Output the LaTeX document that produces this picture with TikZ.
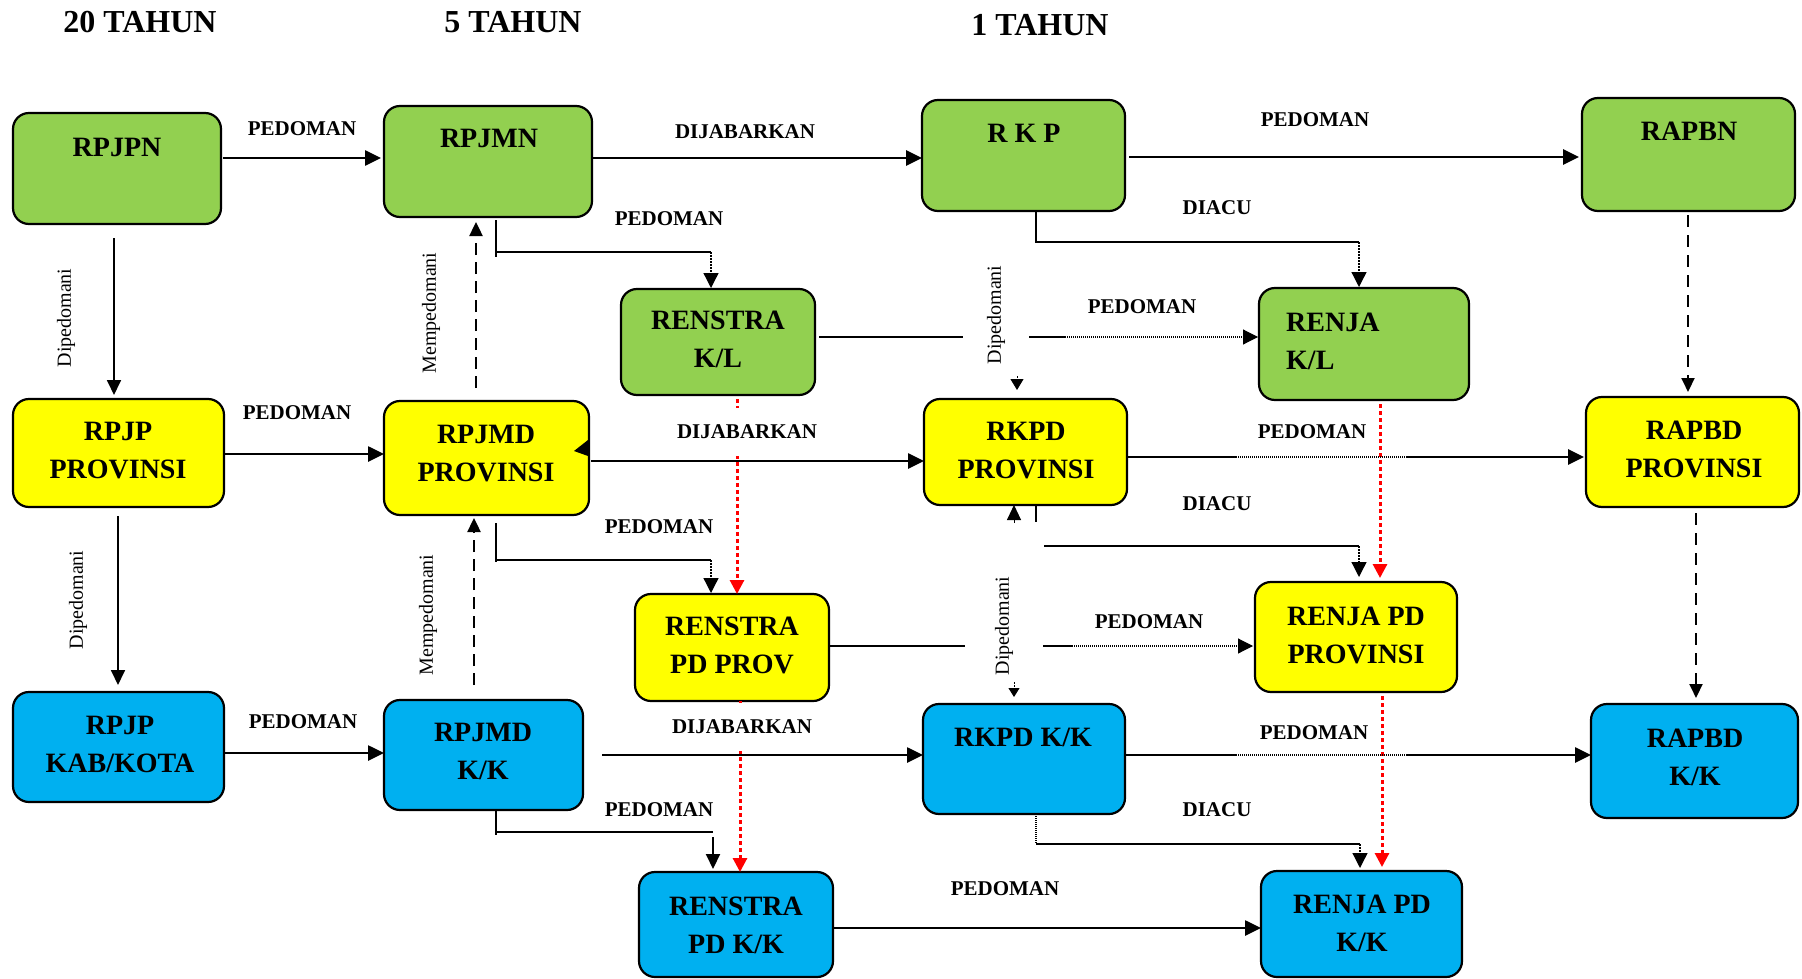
\documentclass[tikz,border=0pt]{standalone}
\usepackage{fontspec}
\setmainfont{Liberation Serif}
\usetikzlibrary{arrows.meta}
\definecolor{gr}{HTML}{92D050}
\definecolor{ye}{HTML}{FFFF00}
\definecolor{bl}{HTML}{00B0F0}
\newcommand\mkbox[6]{\node[box, fill=#6, minimum width={(#4)-(#2)}, minimum height={(#5)-(#3)}] (#1) at ({((#2)+(#4))/2},{((#3)+(#5))/2}) {};}
\begin{document}
\begin{tikzpicture}[x=1pt,y=-1pt,
  box/.style={draw=black, line width=2.2pt, rounded corners=16pt, inner sep=0pt, outer sep=0pt},
  bt/.style={font=\bfseries\fontsize{28}{38}\selectfont, align=center, inner sep=0pt},
  hdr/.style={font=\bfseries\fontsize{32}{36}\selectfont, inner sep=0pt},
  lbl/.style={font=\bfseries\fontsize{21}{24}\selectfont, inner sep=2pt},
  wlbl/.style={lbl, fill=white, inner ysep=17pt},
  rot/.style={font=\fontsize{20}{22}\selectfont, rotate=90, inner sep=1pt},
  wrot/.style={rot, fill=white},
  conn/.style={line width=2.6pt, -{Triangle[length=16pt,width=15pt]}},
  hline/.style={line width=2.6pt},
  vline/.style={line width=2pt},
  vconn/.style={line width=1.8pt, -{Triangle[length=15pt,width=14pt]}},
  dconn/.style={line width=2.4pt, dash pattern=on 12pt off 7pt, -{Triangle[length=14pt,width=13pt]}},
  dotline/.style={line width=1.1pt, dash pattern=on 1pt off 1pt},
  dotconn/.style={line width=1.1pt, dash pattern=on 1pt off 1pt, -{Triangle[length=15pt,width=15pt]}},
  dotarr/.style={line width=1.3pt, dash pattern=on 1.5pt off 1.5pt, -{Triangle[length=15pt,width=15pt]}},
  redarr/.style={red, line width=3pt, dash pattern=on 4pt off 3pt, -{Triangle[length=14pt,width=14pt]}},
  smallarr/.style={line width=1pt, dash pattern=on 1.5pt off 1.5pt, -{Triangle[length=11pt,width=13pt]}}
]
\useasboundingbox (0,0) rectangle (1802,979);
% headers
\node[hdr] (h20) at (140,22) {20 TAHUN};
\node[hdr] (h5) at (513,22) {5 TAHUN};
\node[hdr] (h1) at (1040,25) {1 TAHUN};
% boxes
\mkbox{rpjpn}{13}{113}{221}{224}{gr}
\mkbox{rpjmn}{384}{106}{592}{217}{gr}
\mkbox{rkp}{922}{100}{1125}{211}{gr}
\mkbox{rapbn}{1582}{98}{1795}{211}{gr}
\mkbox{renstrakl}{621}{289}{815}{395}{gr}
\mkbox{renjakl}{1259}{288}{1469}{400}{gr}
\mkbox{rpjpprov}{13}{399}{224}{507}{ye}
\mkbox{rpjmdprov}{384}{401}{589}{515}{ye}
\mkbox{rkpdprov}{924}{399}{1127}{505}{ye}
\mkbox{rapbdprov}{1586}{397}{1799}{507}{ye}
\mkbox{renstrapdprov}{635}{594}{829}{701}{ye}
\mkbox{renjapdprov}{1255}{582}{1457}{692}{ye}
\mkbox{rpjpkab}{13}{692}{224}{802}{bl}
\mkbox{rpjmdkk}{384}{700}{583}{810}{bl}
\mkbox{renstrapdkk}{639}{872}{833}{977}{bl}
\mkbox{rkpdkk}{923}{704}{1125}{814}{bl}
\mkbox{rapbdkk}{1591}{704}{1798}{818}{bl}
\mkbox{renjapdkk}{1261}{871}{1462}{977}{bl}
% box texts
\node[bt] (t1) at (117,147) {RPJPN};
\node[bt] (t2) at (489,138) {RPJMN};
\node[bt] (t3) at (1024,133) {R K P};
\node[bt] (t4) at (1689,131) {RAPBN};
\node[bt] (t5) at (718,339.5) {RENSTRA\\K/L};
\node[bt, align=left, anchor=west] (t6) at (1286,341) {RENJA\\K/L};
\node[bt] (t7) at (118,451) {RPJP\\PROVINSI};
\node[bt] (t8) at (486,454) {RPJMD\\PROVINSI};
\node[bt] (t9) at (1026,450.5) {RKPD\\PROVINSI};
\node[bt] (t10) at (1694,449.5) {RAPBD\\PROVINSI};
\node[bt] (t11) at (732,645.5) {RENSTRA\\PD PROV};
\node[bt] (t12) at (1356,635) {RENJA PD\\PROVINSI};
\node[bt] (t13) at (120,744) {RPJP\\KAB/KOTA};
\node[bt] (t14) at (483,751.5) {RPJMD\\K/K};
\node[bt] (t15) at (736,925) {RENSTRA\\PD K/K};
\node[bt] (t16) at (1023,737) {RKPD K/K};
\node[bt] (t17) at (1695,757) {RAPBD\\K/K};
\node[bt] (t18) at (1362,923) {RENJA PD\\K/K};
% row 1 horizontal
\draw[conn, shorten <=2pt, shorten >=3pt] (rpjpn.east |- 0,158) -- (rpjmn.west |- 0,158);
\draw[conn] (rpjmn.east |- 0,158) -- (rkp.west |- 0,158);
\draw[conn, shorten <=4pt, shorten >=3pt] (rkp.east |- 0,157) -- (rapbn.west |- 0,157);
% verticals left
\draw[vconn, shorten <=14pt, shorten >=4pt] (rpjpn.south -| 114,0) -- (rpjpprov.north -| 114,0);
\draw[vconn, shorten <=9pt, shorten >=7pt] (rpjpprov.south -| 118,0) -- (rpjpkab.north -| 118,0);
\draw[dconn, shorten <=13pt, shorten >=5pt] (rpjmdprov.north -| 476,0) -- (rpjmn.south -| 476,0);
\draw[dconn, shorten <=15pt, shorten >=3pt] (rpjmdkk.north -| 474,0) -- (rpjmdprov.south -| 474,0);
\draw[dconn, line width=2pt, dash pattern=on 12pt off 8pt, shorten <=4pt, shorten >=5pt] (rapbn.south -| 1688,0) -- (rapbdprov.north -| 1688,0);
\draw[dconn, line width=2pt, dash pattern=on 12pt off 8pt, shorten <=6pt, shorten >=6pt] (rapbdprov.south -| 1696,0) -- (rapbdkk.north -| 1696,0);
% L connectors PEDOMAN to RENSTRA
\coordinate (p1) at (711,252);
\draw[vline, shorten <=3pt] (rpjmn.south -| 496,0) -- (496,257);
\draw[hline] (497,252) -- (p1);
\draw[dotarr, shorten >=1pt] (p1) -- (renstrakl.north -| p1);
\coordinate (p2) at (711,560);
\draw[vline, shorten <=8pt] (rpjmdprov.south -| 496,0) -- (496,562);
\draw[hline] (497,560) -- (p2);
\draw[dotarr, shorten >=1pt] (p2) -- (renstrapdprov.north -| p2);
\coordinate (p3) at (713,837);
\draw[vline] (rpjmdkk.south -| 496,0) -- (496,835);
\draw[hline] (497,832) -- (713,832);
\draw[vconn, line width=2pt, shorten >=3pt] (p3) -- (renstrapdkk.north -| p3);
% red dotted
\draw[redarr, shorten <=4pt] (renstrakl.south -| 737,0) -- (renstrapdprov.north -| 737,0);
\draw[redarr] (renstrapdprov.south -| 740,0) -- (renstrapdkk.north -| 740,0);
\draw[redarr, shorten <=4pt, shorten >=4pt] (renjakl.south -| 1380,0) -- (renjapdprov.north -| 1380,0);
\draw[redarr, shorten <=4pt, shorten >=4pt] (renjapdprov.south -| 1382,0) -- (renjapdkk.north -| 1382,0);
% row 1 RENSTRA -> RENJA
\coordinate (r1) at (1065,337);
\draw[hline, shorten <=4pt] (renstrakl.east |- r1) -- (r1);
\draw[dotconn, shorten >=1pt] (r1) -- (renjakl.west |- r1);
% DIACU row 1
\coordinate (d1) at (1359,242);
\draw[hline, line cap=butt] (rkp.south -| 1036,0) -- (1036,242) -- (d1);
\draw[dotarr, shorten >=1pt] (d1) -- (renjakl.north -| d1);
% row 2
\draw[conn] (rpjpprov.east |- 0,454) -- (rpjmdprov.west |- 0,454);
\draw[conn, shorten <=2pt] (rpjmdprov.east |- 0,461) -- (rkpdprov.west |- 0,461);
\fill (588,440) -- (574,451) -- (588,456) -- cycle;
\coordinate (s1) at (1236,457);
\coordinate (s2) at (1406,457);
\draw[hline] (rkpdprov.east |- s1) -- (s1);
\draw[dotline] (s1) -- (s2);
\draw[conn, shorten >=2pt] (s2) -- (rapbdprov.west |- s2);
\coordinate (r2) at (1072,646);
\draw[hline] (renstrapdprov.east |- r2) -- (r2);
\draw[dotconn, shorten >=2pt] (r2) -- (renjapdprov.west |- r2);
% DIACU row 2
\coordinate (d2) at (1359,546);
\draw[hline] (rkpdprov.south -| 1036,0) -- (1036,522);
\draw[hline] (1044,546) -- (d2);
\draw[dotarr, shorten >=5pt] (d2) -- (renjapdprov.north -| d2);
% Dipedomani small arrows (RKP column)
\coordinate (q1) at (1017,376);
\draw[smallarr, shorten >=9pt] (q1) -- (rkpdprov.north -| q1);
\coordinate (q2) at (1014,523);
\draw[line width=1pt, -{Triangle[length=15pt,width=14pt]}] (q2) -- (rkpdprov.south -| q2);
\coordinate (q3) at (1014,682);
\draw[line width=1pt, dash pattern=on 1.5pt off 1.5pt, -{Triangle[length=9pt,width=11pt]}, shorten >=7pt] (q3) -- (rkpdkk.north -| q3);
% row 3
\draw[conn] (rpjpkab.east |- 0,753) -- (rpjmdkk.west |- 0,753);
\draw[conn, shorten <=19pt] (rpjmdkk.east |- 0,755) -- (rkpdkk.west |- 0,755);
\coordinate (s3) at (1236,755);
\coordinate (s4) at (1406,755);
\draw[hline] (rkpdkk.east |- s3) -- (s3);
\draw[dotline] (s3) -- (s4);
\draw[conn] (s4) -- (rapbdkk.west |- s4);
\coordinate (d3) at (1360,844);
\draw[dotline] (rkpdkk.south -| 1036,0) -- (1036,844);
\draw[hline] (1036,844) -- (d3);
\draw[dotarr, shorten >=3pt] (d3) -- (renjapdkk.north -| d3);
\draw[conn] (renstrapdkk.east |- 0,928) -- (renjapdkk.west |- 0,928);
% labels
\node[lbl] (l1) at (302,129) {PEDOMAN};
\node[lbl] (l2) at (745,132) {DIJABARKAN};
\node[lbl] (l3) at (1315,120) {PEDOMAN};
\node[lbl] (l4) at (669,219) {PEDOMAN};
\node[lbl] (l5) at (1217,208) {DIACU};
\node[lbl] (l6) at (1142,307) {PEDOMAN};
\node[lbl] (l7) at (297,413) {PEDOMAN};
\node[wlbl] (l8) at (747,432) {DIJABARKAN};
\node[lbl] (l9) at (1312,432) {PEDOMAN};
\node[lbl] (l10) at (1217,504) {DIACU};
\node[lbl] (l11) at (659,527) {PEDOMAN};
\node[lbl] (l12) at (1149,622) {PEDOMAN};
\node[lbl] (l13) at (303,722) {PEDOMAN};
\node[wlbl] (l14) at (742,727) {DIJABARKAN};
\node[lbl] (l15) at (1314,733) {PEDOMAN};
\node[lbl] (l16) at (659,810) {PEDOMAN};
\node[lbl] (l17) at (1217,810) {DIACU};
\node[lbl] (l18) at (1005,889) {PEDOMAN};
% rotated labels
\node[rot] (v1) at (66,318) {Dipedomani};
\node[rot] (v2) at (78,600) {Dipedomani};
\node[rot] (v3) at (431,313) {Mempedomani};
\node[rot] (v4) at (428,615) {Mempedomani};
\node[wrot, inner ysep=23.5pt] (v5) at (996,315) {Dipedomani};
\node[wrot, inner ysep=29.5pt] (v6) at (1004,626) {Dipedomani};
\end{tikzpicture}
\end{document}
